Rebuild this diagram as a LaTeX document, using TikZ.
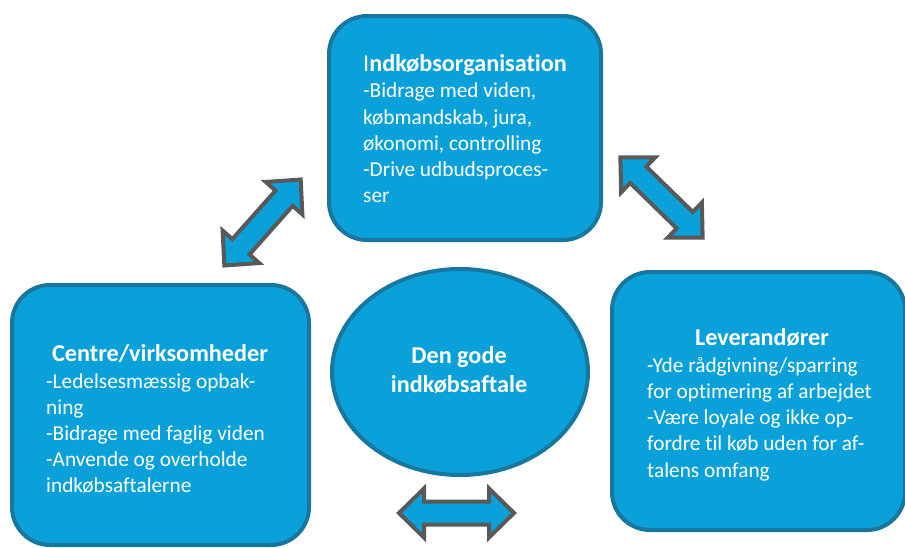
\documentclass[tikz,border=0pt]{standalone}
\usepackage{fontspec}
\setmainfont{Carlito}[Ligatures=NoCommon]
\usetikzlibrary{shapes.geometric}
\definecolor{boxblue}{HTML}{0AA1DA}
\definecolor{boxedge}{HTML}{17779F}
\definecolor{arrowgray}{HTML}{595959}
\tikzset{
  box/.style={draw=boxedge, fill=boxblue, line width=4pt, rounded corners=38pt, inner sep=0pt},
  oval/.style={ellipse, draw=boxedge, fill=boxblue, line width=4pt, inner sep=0pt},
  txt/.style={text=white, inner sep=0pt, align=left, font=\fontsize{21.3}{26.2}\selectfont},
  ttl/.style={text=white, inner sep=0pt, font=\bfseries\fontsize{24.2}{29}\selectfont},
  blockarrow/.style={draw=arrowgray, fill=boxblue, line width=4pt, miter limit=10}
}
\newcommand{\dblarrowpath}{(-57.5,0) -- (-32.5,24.5) -- (-32.5,11.5) -- (32.5,11.5) -- (32.5,24.5) -- (57.5,0) -- (32.5,-24.5) -- (32.5,-11.5) -- (-32.5,-11.5) -- (-32.5,-24.5) -- cycle}
\begin{document}
\begin{tikzpicture}[x=1pt,y=-1pt]
\useasboundingbox (0,0) rectangle (905,547);
\clip (0,0) rectangle (905,547);
% boxes
\node[box, minimum width=272pt, minimum height=224pt] (org) at (465,128) {};
\node[box, minimum width=297pt, minimum height=260pt] (ctr) at (160.5,415) {};
\node[box, minimum width=293pt, minimum height=258pt] (lev) at (758.5,401) {};
\node[oval, minimum width=256pt, minimum height=206pt] (aft) at (460,372) {};
% texts
\node[ttl, anchor=base west] (orgT) at (363,71) {{\mdseries I}ndkøbsorganisation};
\node[txt, anchor=north west] (orgB) at (363,83) {-Bidrage med viden,\\købmandskab, jura,\\økonomi, controlling\\-Drive udbudsproces-\\ser};
\node[ttl, anchor=base] (ctrT) at (160,361) {Centre/virksomheder};
\node[txt, anchor=north west] (ctrB) at (46,373) {-Ledelsesmæssig opbak-\\ning\\-Bidrage med faglig viden\\-Anvende og overholde\\indkøbsaftalerne};
\node[ttl, anchor=base] (levT) at (762,345) {Leverandører};
\node[txt, anchor=north west] (levB) at (647,357) {-Yde rådgivning/sparring\\for optimering af arbejdet\\-Være loyale og ikke op-\\fordre til køb uden for af-\\talens omfang};
\node[ttl, anchor=base, align=center] (aftT) at (459,392) {Den gode\\indkøbsaftale};
% block arrows
\coordinate (a1) at (262.5,222.5);
\coordinate (a2) at (661.5,197.5);
\coordinate (a3) at (456.5,513);
\begin{scope}[shift={(a1)}, rotate=48.4]
  \draw[blockarrow] \dblarrowpath;
\end{scope}
\begin{scope}[shift={(a2)}, rotate=-44.3]
  \draw[blockarrow] \dblarrowpath;
\end{scope}
\begin{scope}[shift={(a3)}]
  \draw[blockarrow] \dblarrowpath;
\end{scope}
\end{tikzpicture}
\end{document}
